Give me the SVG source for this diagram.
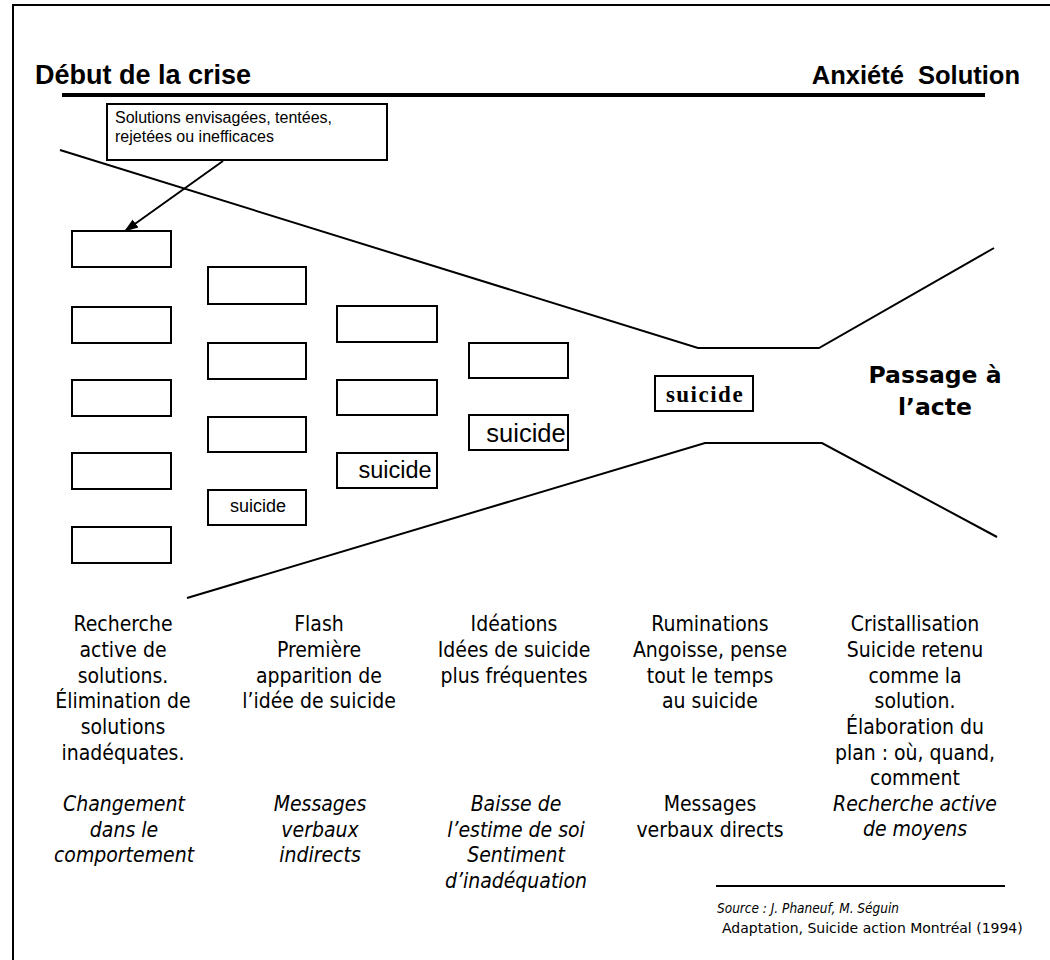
<svg xmlns="http://www.w3.org/2000/svg" width="1050" height="960" viewBox="0 0 1050 960">
<defs>
<marker id="ah" markerWidth="14" markerHeight="12" refX="13" refY="6" orient="auto" markerUnits="userSpaceOnUse">
<path d="M0,1 L14,6 L0,11 z" fill="#000"/>
</marker>
<style>
.box{fill:#fff;stroke:#000;stroke-width:2}
.ln{fill:none;stroke:#000;stroke-width:2}
.hd{font-family:"Liberation Sans",Arial,sans-serif;font-weight:bold;font-size:27px}
.ann{font-family:"Liberation Sans",Arial,sans-serif;font-size:16px}
.col{font-family:"DejaVu Sans Condensed","DejaVu Sans",sans-serif;font-stretch:condensed;font-size:21px;text-anchor:middle}
.it{font-style:italic}
.s{font-family:"Liberation Sans",Arial,sans-serif}
</style>
</defs>
<rect width="1050" height="960" fill="#fff"/>
<g id="frame">
<path class="ln" d="M13,960 V5 H1050"/>
</g>
<g id="titles">
<text class="hd" x="35" y="84">Début de la crise</text>
<text class="hd" x="1020" y="84" text-anchor="end" style="font-size:25.5px">Anxiété&#160; Solution</text>
<line x1="62" y1="95" x2="985" y2="95" stroke="#000" stroke-width="4"/>
</g>
<g id="funnel">
<polyline class="ln" points="60,150 698,348 819,348 994,248"/>
<polyline class="ln" points="187,598 705,443 822,443 997,537"/>
</g>
<g id="annotation">
<rect class="box" x="107" y="104" width="280" height="56"/>
<text class="ann" x="115" y="123">Solutions envisagées, tentées,</text>
<text class="ann" x="115" y="142">rejetées ou inefficaces</text>
</g>
<g id="connectors">
<line x1="223" y1="161" x2="125" y2="231" stroke="#000" stroke-width="2" marker-end="url(#ah)"/>
</g>
<g id="col1">
<rect class="box" x="72" y="231" width="99" height="36"/>
<rect class="box" x="72" y="307" width="99" height="36"/>
<rect class="box" x="72" y="380" width="99" height="36"/>
<rect class="box" x="72" y="453" width="99" height="36"/>
<rect class="box" x="72" y="527" width="99" height="36"/>
</g>
<g id="col2">
<rect class="box" x="208" y="267" width="98" height="37"/>
<rect class="box" x="208" y="343" width="98" height="36"/>
<rect class="box" x="208" y="417" width="98" height="35"/>
<rect class="box" x="208" y="490" width="98" height="35"/>
<text class="s" x="258" y="512" font-size="18" text-anchor="middle">suicide</text>
</g>
<g id="col3">
<rect class="box" x="337" y="306" width="100" height="36"/>
<rect class="box" x="337" y="380" width="100" height="35"/>
<rect class="box" x="337" y="453" width="100" height="35"/>
<text class="s" x="395" y="478" font-size="23.5" text-anchor="middle">suicide</text>
</g>
<g id="col4">
<rect class="box" x="469" y="343" width="99" height="35"/>
<rect class="box" x="469" y="415" width="99" height="35"/>
<text class="s" x="526" y="442" font-size="25.5" text-anchor="middle">suicide</text>
</g>
<g id="center">
<rect class="box" x="655" y="376" width="98" height="35"/>
<text x="705" y="402" font-family="Liberation Serif,serif" font-weight="bold" font-size="23" letter-spacing="1.5" text-anchor="middle">suicide</text>
</g>
<g id="passage">
<text font-family="DejaVu Sans,sans-serif" font-weight="bold" font-size="23.5" text-anchor="middle"><tspan x="935" y="383">Passage à</tspan><tspan x="935" y="415">l’acte</tspan></text>
</g>
<g id="stage1">
<text class="col"><tspan x="123" y="631">Recherche</tspan><tspan x="123" y="657">active de</tspan><tspan x="123" y="683">solutions.</tspan><tspan x="123" y="708">Élimination de</tspan><tspan x="123" y="734">solutions</tspan><tspan x="123" y="760">inadéquates.</tspan></text>
<text class="col it"><tspan x="124" y="811">Changement</tspan><tspan x="124" y="837">dans le</tspan><tspan x="124" y="862">comportement</tspan></text>
</g>
<g id="stage2">
<text class="col"><tspan x="319" y="631">Flash</tspan><tspan x="319" y="657">Première</tspan><tspan x="319" y="683">apparition de</tspan><tspan x="319" y="708">l’idée de suicide</tspan></text>
<text class="col it"><tspan x="320" y="811">Messages</tspan><tspan x="320" y="837">verbaux</tspan><tspan x="320" y="862">indirects</tspan></text>
</g>
<g id="stage3">
<text class="col"><tspan x="514" y="631">Idéations</tspan><tspan x="514" y="657">Idées de suicide</tspan><tspan x="514" y="683">plus fréquentes</tspan></text>
<text class="col it"><tspan x="516" y="811">Baisse de</tspan><tspan x="516" y="837">l’estime de soi</tspan><tspan x="516" y="862">Sentiment</tspan><tspan x="516" y="888">d’inadéquation</tspan></text>
</g>
<g id="stage4">
<text class="col"><tspan x="710" y="631">Ruminations</tspan><tspan x="710" y="657">Angoisse, pense</tspan><tspan x="710" y="683">tout le temps</tspan><tspan x="710" y="708">au suicide</tspan></text>
<text class="col"><tspan x="710" y="811">Messages</tspan><tspan x="710" y="837">verbaux directs</tspan></text>
</g>
<g id="stage5">
<text class="col"><tspan x="915" y="631">Cristallisation</tspan><tspan x="915" y="657">Suicide retenu</tspan><tspan x="915" y="683">comme la</tspan><tspan x="915" y="708">solution.</tspan><tspan x="915" y="734">Élaboration du</tspan><tspan x="915" y="760">plan : où, quand,</tspan><tspan x="915" y="785">comment</tspan></text>
<text class="col it"><tspan x="915" y="811">Recherche active</tspan><tspan x="915" y="836">de moyens</tspan></text>
</g>
<g id="source">
<line x1="716" y1="886" x2="1005" y2="886" stroke="#000" stroke-width="2"/>
<text x="717" y="913" font-family="DejaVu Sans Condensed,DejaVu Sans,sans-serif" font-stretch="condensed" font-style="italic" font-size="13.5">Source : J. Phaneuf, M. Séguin</text>
<text x="722" y="933" font-family="DejaVu Sans,sans-serif" font-size="14">Adaptation, Suicide action Montréal (1994)</text>
</g>
</svg>
